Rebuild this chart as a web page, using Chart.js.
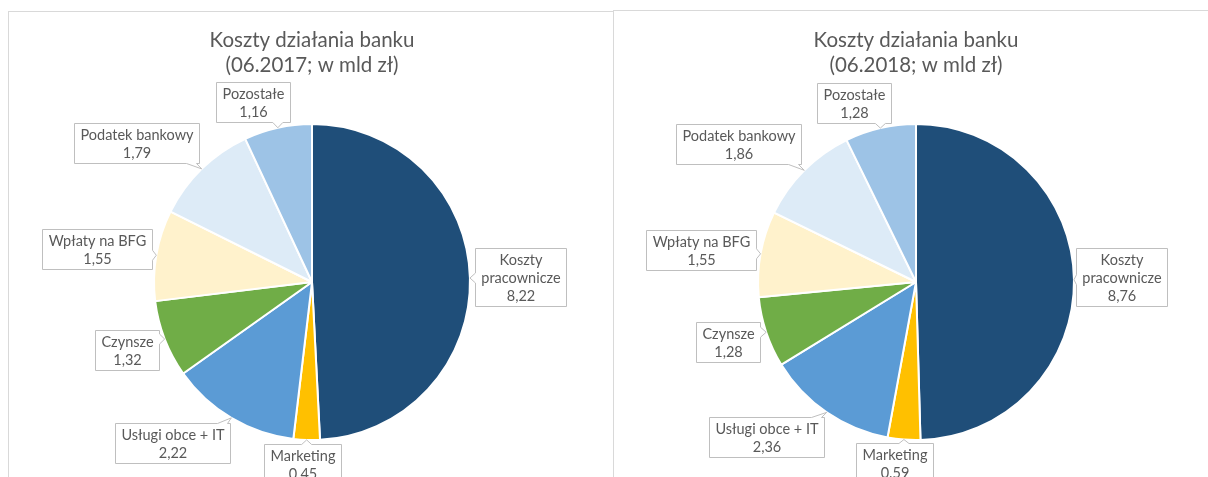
<!DOCTYPE html>
<html><head><meta charset="utf-8">
<script src="https://cdn.jsdelivr.net/npm/chart.js@4.4.1/dist/chart.umd.min.js"></script>
<style>
html,body{margin:0;padding:0;background:#fff;overflow:hidden;width:1208px;height:477px;}
.box{position:absolute;border:1px solid #D9D9D9;box-sizing:border-box;background:#fff;}
#b1{left:8px;top:11px;width:606px;height:500px;}
#b2{left:613px;top:10px;width:620px;height:500px;}
canvas{position:absolute;left:0;top:0;}
</style></head><body>
<div class="box" id="b1"><canvas id="c1" width="604" height="470"></canvas></div>
<div class="box" id="b2"><canvas id="c2" width="604" height="470"></canvas></div>
<script>
const categories = ['Koszty pracownicze','Marketing','Usługi obce + IT','Czynsze','Wpłaty na BFG','Podatek bankowy','Pozostałe'];
const values2017 = [8.22, 0.45, 2.22, 1.32, 1.55, 1.79, 1.16];
const values2018 = [8.76, 0.59, 2.36, 1.28, 1.55, 1.86, 1.28];
const valueLabels2017 = ['8,22','0,45','2,22','1,32','1,55','1,79','1,16'];
const valueLabels2018 = ['8,76','0.59','2,36','1,28','1,55','1,86','1,28'];
const title2017 = ['Koszty działania banku','(06.2017; w mld zł)'];
const title2018 = ['Koszty działania banku','(06.2018; w mld zł)'];
const colors = ['#1F4E79','#FFC000','#5B9BD5','#70AD47','#FFF2CC','#DDEBF7','#9DC3E6'];

const FONT = 'Lato, "Open Sans", sans-serif';
const TEXT = '#595959';

const calloutPlugin = {
  id: 'callouts',
  afterDatasetsDraw(chart, args, opts) {
    const ctx = chart.ctx;
    const meta = chart.getDatasetMeta(0);
    ctx.save();
    ctx.font = opts.font;
    meta.data.forEach((arc, i) => {
      const p = arc.getProps(['x','y','startAngle','endAngle','outerRadius'], true);
      const mid = (p.startAngle + p.endAngle) / 2;
      const tx = p.x + Math.cos(mid) * p.outerRadius;
      const ty = p.y + Math.sin(mid) * p.outerRadius;
      const lines = opts.wrap[i] ? opts.labels[i].split(' ') : [opts.labels[i]];
      lines.push(opts.values[i]);
      const w = Math.round(Math.max(...lines.map(l => ctx.measureText(l).width)) + 2 * opts.padX);
      const h = Math.round(lines.length * opts.lineHeight + 2 * opts.padY);
      const cx = tx + opts.offsets[i][0], cy = ty + opts.offsets[i][1];
      const x0 = Math.round(cx - w / 2) + 0.5, y0 = Math.round(cy - h / 2) + 0.5;
      const x1 = x0 + w, y1 = y0 + h;
      const outL = x0 - tx, outR = tx - x1, outT = y0 - ty, outB = ty - y1;
      let side = null;
      if (Math.max(outT, outB) > 0) side = outT > 0 ? 'top' : 'bottom';
      else if (Math.max(outL, outR) > 0) side = outL > 0 ? 'left' : 'right';
      const hw = 5, ins = 3;
      const clamp = (v, a, b) => Math.max(a, Math.min(b, v));
      const bx = clamp(tx, x0 + ins + hw, x1 - ins - hw);
      const by = clamp(ty, y0 + ins + hw, y1 - ins - hw);
      ctx.beginPath();
      ctx.moveTo(x0, y0);
      if (side === 'top') { ctx.lineTo(bx - hw, y0); ctx.lineTo(tx, ty); ctx.lineTo(bx + hw, y0); }
      ctx.lineTo(x1, y0);
      if (side === 'right') { ctx.lineTo(x1, by - hw); ctx.lineTo(tx, ty); ctx.lineTo(x1, by + hw); }
      ctx.lineTo(x1, y1);
      if (side === 'bottom') { ctx.lineTo(bx + hw, y1); ctx.lineTo(tx, ty); ctx.lineTo(bx - hw, y1); }
      ctx.lineTo(x0, y1);
      if (side === 'left') { ctx.lineTo(x0, by + hw); ctx.lineTo(tx, ty); ctx.lineTo(x0, by - hw); }
      ctx.closePath();
      ctx.fillStyle = '#FFFFFF';
      ctx.fill();
      ctx.lineWidth = 1;
      ctx.strokeStyle = '#BFBFBF';
      ctx.stroke();
      ctx.fillStyle = TEXT;
      ctx.textAlign = 'center';
      ctx.textBaseline = 'middle';
      lines.forEach((l, k) => {
        ctx.fillText(l, (x0 + x1) / 2, y0 + opts.padY + opts.lineHeight * (k + 0.5) + 0.5);
      });
    });
    ctx.restore();
  }
};

function makeChart(id, values, valueLabels, title, offsets, pad) {
  return new Chart(document.getElementById(id), {
    type: 'pie',
    data: {
      labels: categories,
      datasets: [{ data: values, backgroundColor: colors, borderColor: '#FFFFFF', borderWidth: 2 }]
    },
    plugins: [calloutPlugin],
    options: {
      responsive: false,
      devicePixelRatio: 1,
      animation: false,
      layout: { padding: { left: pad.left, right: pad.right, top: 0, bottom: pad.bottom } },
      plugins: {
        legend: { display: false },
        tooltip: { enabled: false },
        title: {
          display: true,
          text: title,
          color: TEXT,
          font: { family: FONT, size: 20.5, weight: 'normal', lineHeight: 1.22 },
          padding: { top: pad.titleTop, bottom: pad.titleBottom }
        },
        callouts: {
          labels: categories,
          values: valueLabels,
          offsets: offsets,
          wrap: [true, false, false, false, false, false, false],
          font: '14.5px ' + FONT,
          lineHeight: 18,
          padX: 6,
          padY: 2
        }
      }
    }
  });
}

makeChart('c1', values2017, valueLabels2017, title2017,
  [[51,-1],[-4,24],[-59,25],[-38,11],[-59,-6],[-65,-26],[-25,-26]],
  { left: 2, right: 0, bottom: 41, titleTop: 16, titleBottom: 45 });
makeChart('c2', values2018, valueLabels2018, title2018,
  [[48,-3],[-9,23],[-60,25],[-38,10],[-60,-4],[-66,-26],[-26,-25]],
  { left: 0, right: 0, bottom: 40, titleTop: 17, titleBottom: 45 });
</script>
</body></html>
